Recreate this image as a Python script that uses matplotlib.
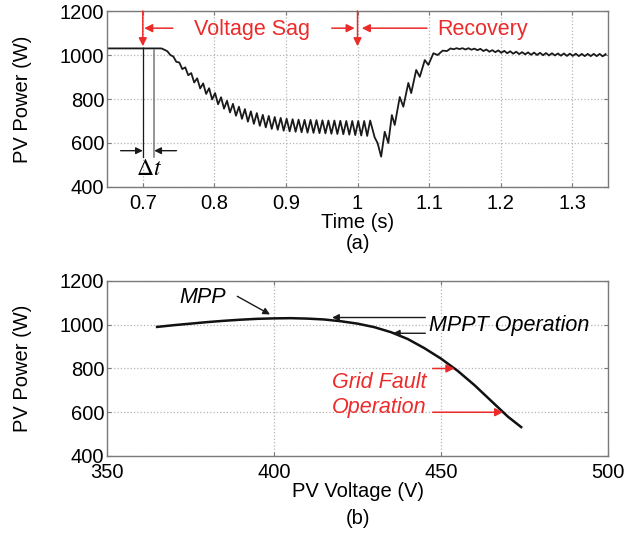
import matplotlib
matplotlib.use("Agg")
import matplotlib.pyplot as plt
import numpy as np

plt.rcParams['font.family'] = ['Liberation Sans', 'DejaVu Sans']
plt.rcParams['mathtext.fontset'] = 'stix'

RED = '#ec2b2b'
FS = 14.5     # ticks and axis labels
FS_NOTE = 15.5  # annotations

# ---- (a) PV power vs time ----
# flat part before the sag
t_flat = [0.65, 0.726]
p_flat = [1030, 1030]

# sag: values read at every half ripple period (120 Hz ripple)
t_sag_start = 0.726
p_sag = [1030, 1024, 1017, 1000, 993, 969, 966, 936, 944, 908,
         918, 875, 894, 848, 871, 823, 849, 798, 827, 776,
         808, 756, 792, 739, 778, 724, 765, 710, 754, 697,
         744, 687, 736, 678, 728, 671, 723, 664, 718, 660,
         714, 656, 710, 653, 708, 651, 706, 649, 705, 647,
         705, 646, 704, 645, 703, 644, 702, 642, 702, 641,
         701, 640, 700, 638, 700, 636, 700, 634, 700, 632,
         702]

# dip and recovery
t_rec = [1.024, 1.028, 1.033, 1.038, 1.043, 1.048, 1.052, 1.059, 1.064, 1.071,
         1.075, 1.082, 1.087, 1.094, 1.099, 1.106, 1.112, 1.119, 1.125]
p_rec = [625, 600, 538, 651, 600, 727, 682, 809, 765, 873,
         827, 932, 901, 977, 955, 1008, 1000, 1020, 1018]

# tail after recovery
t_tail_start = 1.13
p_tail = [1030, 1026, 1031, 1027, 1031, 1025, 1031, 1024, 1029, 1022,
          1028, 1018, 1025, 1015, 1022, 1013, 1021, 1010, 1019, 1008,
          1017, 1006, 1015, 1004, 1013, 1003, 1012, 1001, 1011, 1000,
          1010, 999, 1009, 998, 1008, 998, 1007, 997, 1007, 996,
          1006, 996, 1006, 995, 1005, 995, 1005, 995, 1005, 995,
          1005, 994, 1004]

half_period = 1 / 240
t_sag = t_sag_start + np.arange(len(p_sag)) * half_period
t_tail = t_tail_start + np.arange(len(p_tail)) * half_period

t_all = np.concatenate([t_flat, t_sag[1:], t_rec, t_tail])
p_all = np.concatenate([p_flat, p_sag[1:], p_rec, p_tail])

# ---- (b) P-V curve ----
pv_voltage = [365, 370, 375, 380, 385, 390, 395, 400, 405, 410, 415, 420,
              425, 430, 435, 440, 445, 450, 455, 460, 465, 470, 474]
pv_power = [990, 998, 1005, 1012, 1018, 1023, 1027, 1029, 1030, 1028, 1024, 1016,
            1005, 989, 966, 935, 893, 845, 789, 724, 652, 580, 532]

time_ticks = [0.7, 0.8, 0.9, 1.0, 1.1, 1.2, 1.3]
time_labels = ['0.7', '0.8', '0.9', '1', '1.1', '1.2', '1.3']
power_ticks = [400, 600, 800, 1000, 1200]
volt_ticks = [350, 400, 450, 500]

fig = plt.figure(figsize=(6.28, 5.35), dpi=100)
ax1 = fig.add_axes([0.1704, 0.6505, 0.7978, 0.3289])
ax2 = fig.add_axes([0.1704, 0.1477, 0.7978, 0.3271])


def style(ax):
    for s in ax.spines.values():
        s.set_color('#7a7a7a')
        s.set_linewidth(1.0)
    ax.grid(True, color='#b5b5b5', linestyle=':', linewidth=0.9)
    ax.tick_params(direction='in', length=3, color='#7a7a7a', labelsize=FS,
                   top=True, right=True)
    ax.tick_params(axis='x', pad=5)
    ax.tick_params(axis='y', pad=2)
    ax.set_axisbelow(True)


# top
ax1.plot(t_all, p_all, color='#1a1a1a', lw=1.3)
ax1.set_xlim(0.65, 1.35)
ax1.set_ylim(400, 1200)
ax1.set_xticks(time_ticks)
ax1.set_xticklabels(time_labels)
ax1.set_yticks(power_ticks)
style(ax1)
ax1.set_xlabel('Time (s)', fontsize=FS, labelpad=0)
ax1.set_ylabel('PV Power (W)', fontsize=FS, labelpad=20)

red_arrow = dict(arrowstyle='-|>', color=RED, lw=1.1, mutation_scale=12, shrinkA=0, shrinkB=0)
ax1.annotate('', xy=(0.7, 1040), xytext=(0.7, 1200), arrowprops=red_arrow)
ax1.annotate('', xy=(1.0, 1040), xytext=(1.0, 1200), arrowprops=red_arrow)
ax1.annotate('', xy=(0.702, 1122), xytext=(0.742, 1122), arrowprops=red_arrow)
ax1.annotate('', xy=(0.996, 1122), xytext=(0.964, 1122), arrowprops=red_arrow)
ax1.annotate('', xy=(1.006, 1122), xytext=(1.097, 1122), arrowprops=red_arrow)
ax1.text(0.853, 1118, 'Voltage Sag', color=RED, fontsize=FS_NOTE, ha='center', va='center')
ax1.text(1.175, 1118, 'Recovery', color=RED, fontsize=FS_NOTE, ha='center', va='center')

# delta t marker
ax1.plot([0.7, 0.7], [1030, 535], color='#1a1a1a', lw=0.9)
ax1.plot([0.716, 0.716], [1025, 535], color='#777777', lw=1.1)
blk_arrow = dict(arrowstyle='-|>', color='#1a1a1a', lw=1.0, mutation_scale=10, shrinkA=0, shrinkB=0)
ax1.annotate('', xy=(0.7, 565), xytext=(0.669, 565), arrowprops=blk_arrow)
ax1.annotate('', xy=(0.716, 565), xytext=(0.747, 565), arrowprops=blk_arrow)
ax1.text(0.709, 484, r'$\Delta t$', fontsize=17, ha='center', va='center')

# bottom
ax2.plot(pv_voltage, pv_power, color='#111111', lw=1.8)
ax2.set_xlim(350, 500)
ax2.set_ylim(400, 1200)
ax2.set_xticks(volt_ticks)
ax2.set_yticks(power_ticks)
style(ax2)
ax2.set_xlabel('PV Voltage (V)', fontsize=FS, labelpad=0)
ax2.set_ylabel('PV Power (W)', fontsize=FS, labelpad=20)

ax2.text(378.7, 1123, 'MPP', fontsize=FS_NOTE, style='italic', ha='center', va='center')
ax2.annotate('', xy=(398.8, 1047), xytext=(389, 1130), arrowprops=blk_arrow)
ax2.annotate('', xy=(417.4, 1033), xytext=(445.3, 1033), arrowprops=blk_arrow)
ax2.annotate('', xy=(435.6, 961), xytext=(445.3, 961), arrowprops=blk_arrow)
ax2.text(446.5, 997, 'MPPT Operation', fontsize=FS_NOTE, style='italic', ha='left', va='center')

ax2.text(431.5, 737, 'Grid Fault', fontsize=FS_NOTE, style='italic', color=RED, ha='center', va='center')
ax2.text(431.5, 620, 'Operation', fontsize=FS_NOTE, style='italic', color=RED, ha='center', va='center')
ax2.annotate('', xy=(454, 800), xytext=(447.5, 800), arrowprops=red_arrow)
ax2.annotate('', xy=(468.6, 600), xytext=(447.5, 600), arrowprops=red_arrow)

fig.text(0.5704, 1 - 244 / 535, '(a)', fontsize=FS, ha='center', va='center')
fig.text(0.5704, 1 - 518 / 535, '(b)', fontsize=FS, ha='center', va='center')

fig.savefig('out.png', dpi=100)
